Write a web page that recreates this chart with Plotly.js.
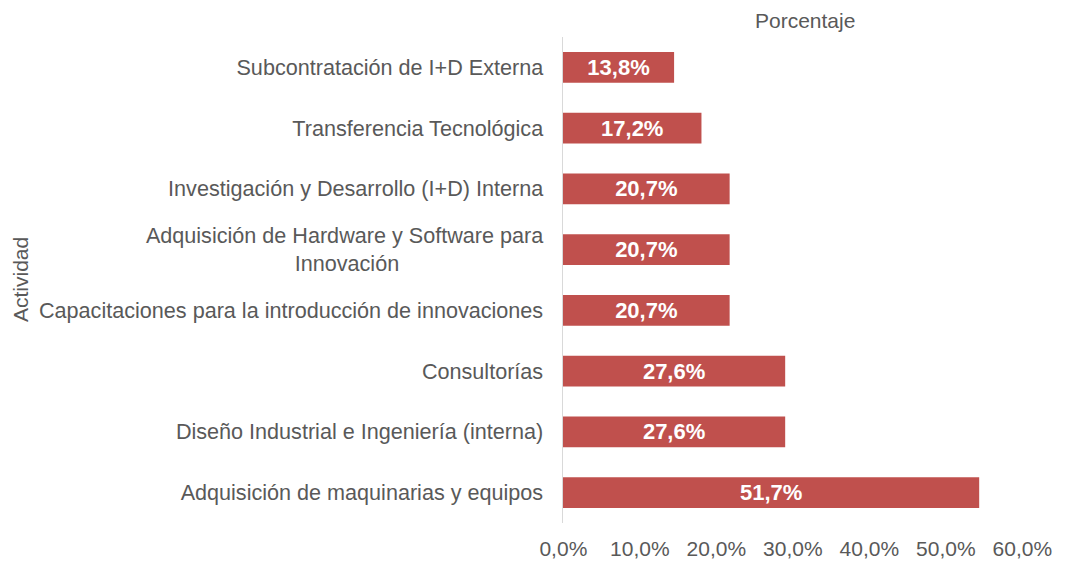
<!DOCTYPE html>
<html>
<head>
<meta charset="utf-8">
<script src="https://cdn.plot.ly/plotly-3.0.1.min.js"></script>
<style>html,body{margin:0;padding:0;background:#fff;}#chart{width:1079px;height:562px;}</style>
</head>
<body>
<div id="chart"></div>
<script>
const NB = '\u00a0'.repeat(24);
const categories = [
  "Subcontratación de I+D Externa",
  "Transferencia Tecnológica",
  "Investigación y Desarrollo (I+D) Interna",
  "Adquisición de Hardware y Software para<br>Innovación" + NB,
  "Capacitaciones para la introducción de innovaciones",
  "Consultorías",
  "Diseño Industrial e Ingeniería (interna)",
  "Adquisición de maquinarias y equipos"
];
const porcentaje = [13.8, 17.2, 20.7, 20.7, 20.7, 27.6, 27.6, 51.7];
const tickValues = [0, 10, 20, 30, 40, 50, 60];
const tickLabels = ["0,0%", "10,0%", "20,0%", "30,0%", "40,0%", "50,0%", "60,0%"];

const FONT = "Liberation Sans, Arial, Helvetica, sans-serif";
const GREY = '#595959';

const trace = {
  type: 'bar',
  orientation: 'h',
  y: categories,
  x: porcentaje,
  marker: {color: '#C0504D'},
  texttemplate: '%{x:.1f}%',
  textposition: 'inside',
  insidetextanchor: 'middle',
  constraintext: 'none',
  textfont: {family: FONT, size: 22, color: '#ffffff', weight: 'bold'},
  hoverinfo: 'none'
};

// invisible helper trace so the label axis is drawn
const labelTrace = {
  type: 'scatter', mode: 'markers',
  x: [tickValues[0], tickValues[tickValues.length - 1]],
  y: [categories[0], categories[0]],
  xaxis: 'x2', yaxis: 'y',
  marker: {opacity: 0, size: 1},
  hoverinfo: 'none', showlegend: false
};

const layout = {
  width: 1079, height: 562,
  margin: {l: 563, r: 33, t: 37, b: 39},
  paper_bgcolor: '#ffffff',
  plot_bgcolor: '#ffffff',
  separators: ',.',
  bargap: 0.49,
  showlegend: false,
  font: {family: FONT, size: 21, color: GREY},
  xaxis: {
    range: [0, 60],
    showticklabels: false,
    showgrid: false,
    zeroline: false,
    showline: false,
    ticks: '',
    fixedrange: true
  },
  xaxis2: {
    overlaying: 'x',
    side: 'bottom',
    anchor: 'y',
    range: [-0.05, 63.09],
    tickmode: 'array',
    tickvals: tickValues,
    ticktext: tickLabels,
    showgrid: false,
    zeroline: false,
    showline: false,
    ticks: '',
    ticklabelstandoff: 11,
    tickfont: {family: FONT, size: 21, color: GREY},
    fixedrange: true
  },
  yaxis: {
    type: 'category',
    autorange: 'reversed',
    showgrid: false,
    zeroline: false,
    showline: true,
    linecolor: '#d9d9d9',
    linewidth: 1.5,
    ticks: '',
    ticklabelstandoff: 14,
    tickfont: {family: FONT, size: 21.6, color: GREY},
    automargin: false
  },
  annotations: [{
    text: 'Porcentaje',
    xref: 'paper', yref: 'paper',
    x: 0.5, y: 1, yshift: 17,
    xanchor: 'center', yanchor: 'middle',
    showarrow: false,
    font: {family: FONT, size: 21, color: GREY}
  }, {
    text: 'Actividad',
    xref: 'paper', yref: 'paper',
    x: (20 - 563) / 483, y: 0.5,
    xanchor: 'center', yanchor: 'middle',
    textangle: -90,
    showarrow: false,
    font: {family: FONT, size: 21, color: GREY}
  }]
};

Plotly.newPlot('chart', [trace, labelTrace], layout, {displayModeBar: false, staticPlot: true});
</script>
</body>
</html>
